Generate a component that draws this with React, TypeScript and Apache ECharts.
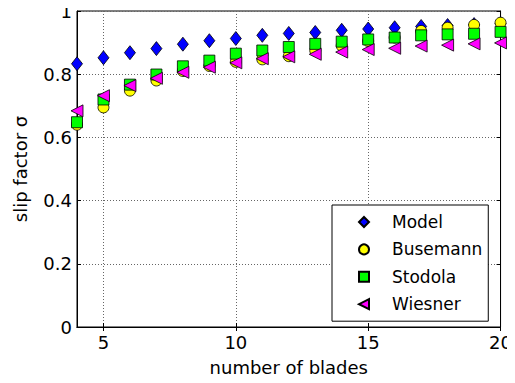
import React, { useEffect, useRef } from "react";
import * as echarts from "echarts";

const blades = [4, 5, 6, 7, 8, 9, 10, 11, 12, 13, 14, 15, 16, 17, 18, 19, 20];
const model = [0.833, 0.852, 0.868, 0.881, 0.895, 0.906, 0.913, 0.923, 0.929, 0.932, 0.939, 0.943, 0.947, 0.951, 0.954, 0.957, 0.96];
const busemann = [0.64, 0.695, 0.748, 0.78, 0.81, 0.826, 0.839, 0.847, 0.857, 0.875, 0.89, 0.905, 0.916, 0.937, 0.947, 0.956, 0.963];
const stodola = [0.648, 0.72, 0.767, 0.799, 0.825, 0.843, 0.865, 0.875, 0.886, 0.896, 0.903, 0.91, 0.916, 0.923, 0.926, 0.928, 0.934];
const wiesner = [0.684, 0.732, 0.764, 0.787, 0.806, 0.822, 0.836, 0.849, 0.855, 0.863, 0.87, 0.878, 0.882, 0.889, 0.892, 0.896, 0.899];
const xTicks = [5, 10, 15, 20];

const pairs = (ys: number[]) => blades.map((x, i) => [x, ys[i]]);

export default function App() {
  const ref = useRef<HTMLDivElement>(null);
  useEffect(() => {
    const chart = echarts.init(ref.current!, null, { renderer: "svg" });
    const font = "DejaVu Sans, sans-serif";
    const grid = { lineStyle: { color: "#666", type: [1, 2], width: 1 } };
    const border = { color: "#000", borderColor: "#000", borderWidth: 0.8 };
    const mk = (name: string, data: number[], symbol: string, size: any, color: string, rotate = 0) => ({
      name,
      type: "scatter",
      data: pairs(data),
      symbol,
      symbolSize: size,
      symbolRotate: rotate,
      itemStyle: { color, borderColor: "#000", borderWidth: 0.8, opacity: 1 },
    });
    chart.setOption({
      animation: false,
      grid: { left: 77, right: 10, top: 11, bottom: 56, show: true, borderColor: "#000", borderWidth: 1 },
      xAxis: [
        {
          type: "value", min: 4, max: 20,
          name: "number of blades", nameLocation: "middle", nameGap: 31,
          nameTextStyle: { fontFamily: font, fontSize: 18, color: "#000" },
          axisLine: { lineStyle: { color: "#000" } },
          axisTick: { inside: true, length: 4, customValues: xTicks, lineStyle: { color: "#000" } },
          axisLabel: { customValues: xTicks, fontFamily: font, fontSize: 18, color: "#000", margin: 6 },
          splitLine: { show: true, ...grid },
        },
        {
          type: "value", min: 4, max: 20, position: "top",
          axisLine: { lineStyle: { color: "#000" } },
          axisTick: { inside: true, length: 4, customValues: xTicks, lineStyle: { color: "#000" } },
          axisLabel: { show: false },
          splitLine: { show: false },
        },
      ],
      yAxis: [
        {
          type: "value", min: 0, max: 1, interval: 0.2,
          name: "slip factor σ", nameLocation: "middle", nameGap: 48, nameRotate: 90,
          nameTextStyle: { fontFamily: font, fontSize: 18, color: "#000" },
          axisLine: { show: true, lineStyle: { color: "#000" } },
          axisTick: { show: true, inside: true, length: 4, lineStyle: { color: "#000" } },
          axisLabel: { fontFamily: font, fontSize: 18, color: "#000", margin: 5 },
          splitLine: { show: true, ...grid },
        },
        {
          type: "value", min: 0, max: 1, interval: 0.2, position: "right",
          axisLine: { show: true, lineStyle: { color: "#000" } },
          axisTick: { show: true, inside: true, length: 4, lineStyle: { color: "#000" } },
          axisLabel: { show: false },
          splitLine: { show: false },
        },
      ],
      legend: {
        orient: "vertical",
        left: 332,
        top: 205,
        backgroundColor: "#fff",
        borderColor: "#000",
        borderWidth: 1,
        borderRadius: 0,
        padding: [8, 6, 8, 26],
        itemGap: 9.4,
        itemWidth: 10,
        itemHeight: 10,
        textStyle: { fontFamily: font, fontSize: 17, lineHeight: 18, color: "#000", padding: [0, 0, 0, 18] },
        data: [
          { name: "Model", icon: "diamond" },
          { name: "Busemann", icon: "circle" },
          { name: "Stodola", icon: "rect" },
          { name: "Wiesner", icon: "path://M10,0 L0,5 L10,10 Z" },
        ],
      },
      series: [
        mk("Model", model, "diamond", [11, 14], "#0000ff"),
        mk("Busemann", busemann, "circle", 11, "#ffff00"),
        mk("Stodola", stodola, "rect", 11, "#00ff00"),
        mk("Wiesner", wiesner, "triangle", 12, "#ff00ff", 90),
      ],
    });
    return () => chart.dispose();
  }, []);
  return <div ref={ref} style={{ width: 515, height: 383, margin: -8 }} />;
}
